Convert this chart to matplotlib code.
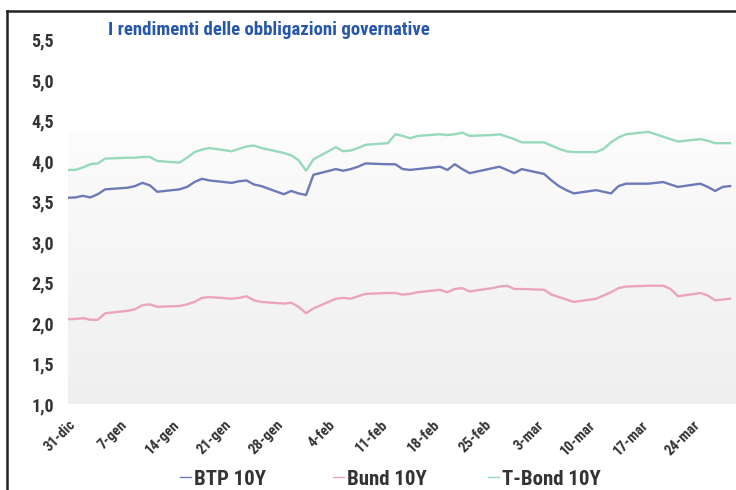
import numpy as np
import pandas as pd
import matplotlib
matplotlib.use('Agg')
import matplotlib.pyplot as plt
import matplotlib.dates as mdates
import matplotlib.transforms as mtransforms
from matplotlib import font_manager
from matplotlib.colors import LinearSegmentedColormap
from matplotlib.lines import Line2D

# prefer a narrow sans if one is installed, else plain Liberation Sans a bit smaller
fonts = font_manager.fontManager.ttflist
names = {f.name for f in fonts}
narrow = None
for n in ['Liberation Sans Narrow', 'Roboto Condensed', 'Open Sans Condensed']:
    if n in names:
        narrow = n
        break
if narrow:
    plt.rcParams['font.family'] = [narrow, 'Liberation Sans', 'DejaVu Sans']
    fs = {'title': 13.5, 'y': 13, 'x': 10.5, 'leg': 15}
else:
    plt.rcParams['font.family'] = ['Liberation Sans', 'DejaVu Sans']
    fs = {'title': 12, 'y': 11, 'x': 9.5, 'leg': 12.5}
plt.rcParams['font.weight'] = 'bold'

# daily 10y yields, business days 29 dec 2023 - 29 mar 2024
dates = pd.bdate_range('2023-12-29', '2024-03-29')

btp = [3.54,
       3.55, 3.57, 3.55, 3.59, 3.65,
       3.67, 3.69, 3.73, 3.70, 3.62,
       3.65, 3.68, 3.74, 3.78, 3.76,
       3.73, 3.75, 3.76, 3.71, 3.69,
       3.59, 3.63, 3.60, 3.58, 3.83,
       3.90, 3.88, 3.90, 3.93, 3.97,
       3.96, 3.96, 3.90, 3.89, 3.90,
       3.93, 3.89, 3.96, 3.90, 3.85,
       3.91, 3.93, 3.89, 3.85, 3.90,
       3.84, 3.76, 3.69, 3.64, 3.60,
       3.64, 3.62, 3.60, 3.69, 3.72,
       3.72, 3.73, 3.74, 3.71, 3.68,
       3.72, 3.68, 3.63, 3.68, 3.69]

bund = [2.04,
        2.05, 2.06, 2.04, 2.04, 2.12,
        2.15, 2.17, 2.22, 2.23, 2.20,
        2.21, 2.23, 2.26, 2.31, 2.32,
        2.30, 2.31, 2.33, 2.28, 2.26,
        2.24, 2.25, 2.20, 2.12, 2.18,
        2.30, 2.31, 2.30, 2.33, 2.36,
        2.37, 2.37, 2.35, 2.36, 2.38,
        2.41, 2.38, 2.42, 2.43, 2.39,
        2.43, 2.45, 2.46, 2.42, 2.42,
        2.41, 2.35, 2.32, 2.29, 2.26,
        2.30, 2.34, 2.38, 2.43, 2.45,
        2.46, 2.46, 2.46, 2.42, 2.33,
        2.37, 2.34, 2.28, 2.29, 2.30]

tbond = [3.89,
         3.89, 3.92, 3.96, 3.97, 4.03,
         4.04, 4.04, 4.05, 4.05, 4.00,
         3.98, 4.04, 4.11, 4.14, 4.16,
         4.12, 4.15, 4.18, 4.19, 4.16,
         4.10, 4.07, 4.01, 3.88, 4.02,
         4.17, 4.12, 4.13, 4.16, 4.20,
         4.22, 4.33, 4.31, 4.28, 4.31,
         4.33, 4.32, 4.33, 4.35, 4.31,
         4.32, 4.33, 4.30, 4.27, 4.23,
         4.23, 4.19, 4.15, 4.12, 4.11,
         4.11, 4.15, 4.23, 4.29, 4.33,
         4.36, 4.33, 4.30, 4.27, 4.24,
         4.27, 4.25, 4.22, 4.22, 4.22]

tick_dates = pd.date_range('2023-12-31', periods=13, freq='7D')
tick_labels = ['31-dic', '7-gen', '14-gen', '21-gen', '28-gen', '4-feb', '11-feb',
               '18-feb', '25-feb', '3-mar', '10-mar', '17-mar', '24-mar']
y_ticks = [1.0, 1.5, 2.0, 2.5, 3.0, 3.5, 4.0, 4.5, 5.0, 5.5]

W, H = 736, 490
fig = plt.figure(figsize=(W/100, H/100), dpi=100)
ax = fig.add_axes([68/W, (H-404)/H, (736-68)/W, (404-39.5)/H])

# light grey plot area, fading out towards the top
x0 = mdates.date2num(pd.Timestamp('2023-12-31'))
x1 = mdates.date2num(dates[-1]) + 0.8
grad = LinearSegmentedColormap.from_list('bg', ['#efefef', '#f5f5f5', '#fcfcfc'])
ax.imshow(np.linspace(0, 1, 100).reshape(-1, 1), extent=[x0, x1, 1.0, 4.35],
          cmap=grad, aspect='auto', origin='lower', zorder=0)

l1, = ax.plot(dates, btp, color='#6e7ab6', lw=1.7, zorder=3)
l2, = ax.plot(dates, bund, color='#eba5b9', lw=1.7, zorder=3)
l3, = ax.plot(dates, tbond, color='#98d9bb', lw=1.7, zorder=3)

ax.set_xlim(x0, x1)
ax.set_ylim(1.0, 5.5)
ax.set_yticks(y_ticks)
ax.set_yticklabels([f'{v:.1f}'.replace('.', ',') for v in y_ticks], fontsize=fs['y'], color='#333333')
ax.set_xticks(tick_dates)
ax.set_xticklabels(tick_labels, rotation=45, ha='right', va='top', rotation_mode='anchor',
                   fontsize=fs['x'], color='#333333')
offset = mtransforms.ScaledTranslation(5/100, 0, fig.dpi_scale_trans)
for lab in ax.get_xticklabels():
    lab.set_transform(lab.get_transform() + offset)
ax.tick_params(axis='both', length=0)
ax.tick_params(axis='y', pad=10)
ax.tick_params(axis='x', pad=10)
for s in ax.spines.values():
    s.set_visible(False)

fig.text(108/W, 1 - 30/H, 'I rendimenti delle obbligazioni governative', ha='left', va='center',
         fontsize=fs['title'], color='#2657ab')

# one legend entry per series, spread along the bottom
for line, lab, xl in [(l1, 'BTP 10Y', 180), (l2, 'Bund 10Y', 333), (l3, 'T-Bond 10Y', 488)]:
    h = Line2D([], [], color=line.get_color(), lw=1.0)
    fig.legend([h], [lab], loc='center left', bbox_to_anchor=(xl/W, 1 - 479/H), frameon=False,
               fontsize=fs['leg'], handlelength=0.55, handletextpad=0.1, borderpad=0,
               borderaxespad=0, labelcolor='#333333')

# frame lines left and top
fig.add_artist(Line2D([7/W, 7/W], [0, 1 - 11/H], transform=fig.transFigure, color='#222222', lw=1.8))
fig.add_artist(Line2D([7/W, 1], [1 - 11/H, 1 - 11/H], transform=fig.transFigure, color='#222222', lw=1.8))

fig.savefig('out.png', dpi=100)
